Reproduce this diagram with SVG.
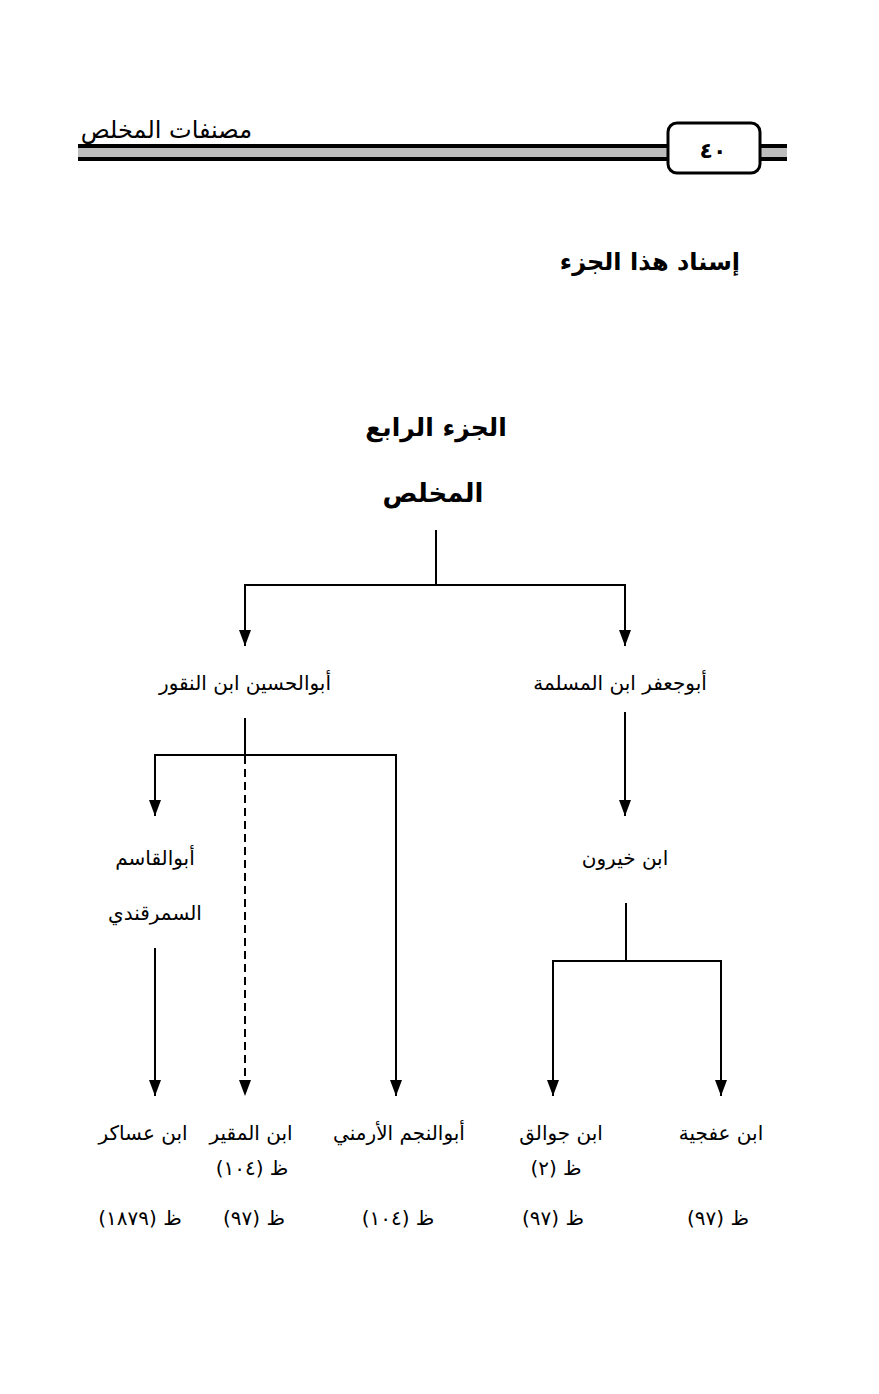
<svg xmlns="http://www.w3.org/2000/svg" width="879" height="1394" viewBox="0 0 879 1394">
<defs>
<marker id="ah" markerWidth="16" markerHeight="12" refX="16" refY="6" orient="auto" markerUnits="userSpaceOnUse" viewBox="0 0 16 12">
<path d="M0,0 L16,6 L0,12 Z" fill="#000"/>
</marker>
<style>
.t{font-family:"DejaVu Sans",sans-serif;font-size:20px;fill:#000;text-anchor:middle;direction:rtl}
.b{font-family:"DejaVu Sans",sans-serif;font-weight:bold;fill:#000;text-anchor:middle;direction:rtl}
.l{stroke:#000;stroke-width:2;fill:none}
.a{stroke:#000;stroke-width:2;fill:none}
.d{stroke:#000;stroke-width:2;fill:none;stroke-dasharray:8 5}
</style>
</defs>
<rect width="879" height="1394" fill="#fff"/>
<g id="header">
<rect x="78" y="145" width="592" height="16" fill="#bdbdbd"/>
<rect x="78" y="144" width="592" height="4" fill="#000"/>
<rect x="78" y="157" width="592" height="4" fill="#000"/>
<rect x="758" y="145" width="29" height="16" fill="#bdbdbd"/>
<rect x="758" y="144" width="29" height="4" fill="#000"/>
<rect x="758" y="157" width="29" height="4" fill="#000"/>
<rect x="668" y="123" width="92" height="50" rx="9" fill="#fff" stroke="#000" stroke-width="3"/>
<text x="713" y="158" class="b" style="font-size:22px">٤٠</text>
<text x="252" y="138" class="b" style="font-size:24px;font-weight:normal;text-anchor:start">مصنفات المخلص</text>
</g>
<g id="title"><text x="740" y="270" class="b" style="font-size:24px;text-anchor:start">إسناد هذا الجزء</text></g>
<g id="root">
<text x="436" y="436" class="b" style="font-size:25px">الجزء الرابع</text>
<text x="433" y="502" class="b" style="font-size:26px">المخلص</text>
</g>
<g id="n-naqqur"><text x="245" y="690" class="t">أبوالحسين ابن النقور</text></g>
<g id="n-muslima"><text x="620" y="690" class="t">أبوجعفر ابن المسلمة</text></g>
<g id="n-samarqandi"><text x="155" y="865" class="t">أبوالقاسم</text><text x="155" y="920" class="t">السمرقندي</text></g>
<g id="n-khayrun"><text x="625" y="865" class="t">ابن خيرون</text></g>
<g id="n-asakir"><text x="143" y="1140" class="t">ابن عساكر</text><text x="140" y="1225" class="t">ظ (١٨٧٩)</text></g>
<g id="n-muqayyir"><text x="251" y="1140" class="t">ابن المقير</text><text x="252" y="1175" class="t">ظ (١٠٤)</text><text x="254" y="1225" class="t">ظ (٩٧)</text></g>
<g id="n-armani"><text x="399" y="1140" class="t">أبوالنجم الأرمني</text><text x="398" y="1225" class="t">ظ (١٠٤)</text></g>
<g id="n-jawaliq"><text x="561" y="1140" class="t">ابن جوالق</text><text x="556" y="1175" class="t">ظ (٢)</text><text x="553" y="1225" class="t">ظ (٩٧)</text></g>
<g id="n-afjiya"><text x="721" y="1140" class="t">ابن عفجية</text><text x="718" y="1225" class="t">ظ (٩٧)</text></g>
<g id="connectors">
<path class="l" d="M436,530 V585 M245,585 H625"/>
<path class="a" d="M245,584 V646" marker-end="url(#ah)"/>
<path class="a" d="M625,584 V646" marker-end="url(#ah)"/>
<path class="l" d="M245,718 V755 M155,755 H396"/>
<path class="a" d="M155,754 V816" marker-end="url(#ah)"/>
<path class="d" d="M245,756 V1081"/>
<path d="M239,1080 L251,1080 L245,1096 Z" fill="#000"/>
<path class="a" d="M396,754 V1096" marker-end="url(#ah)"/>
<path class="a" d="M625,712 V816" marker-end="url(#ah)"/>
<path class="l" d="M626,903 V961 M553,961 H721"/>
<path class="a" d="M553,960 V1096" marker-end="url(#ah)"/>
<path class="a" d="M721,960 V1096" marker-end="url(#ah)"/>
<path class="a" d="M155,948 V1096" marker-end="url(#ah)"/>
</g>
</svg>
